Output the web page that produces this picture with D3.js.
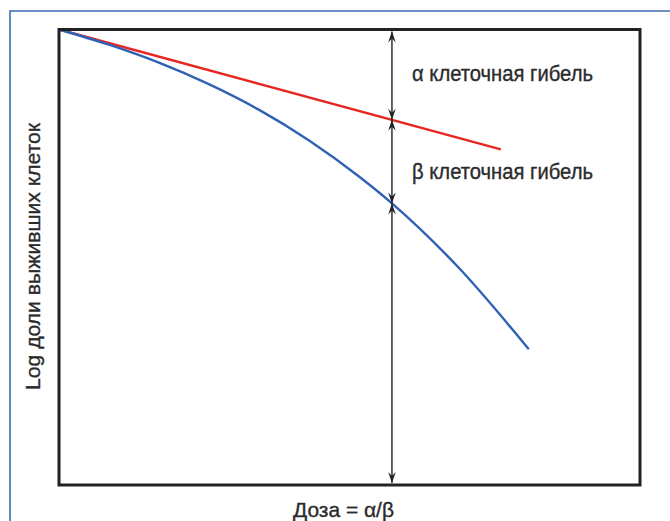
<!DOCTYPE html>
<html>
<head>
<meta charset="utf-8">
<script src="https://cdn.jsdelivr.net/npm/d3@7"></script>
<style>
  html, body { margin: 0; padding: 0; background: #fff; }
</style>
</head>
<body>
<div id="chart"></div>
<script>
// alpha-only (linear) component
const redDose = [0, 1.327]
const redLog = [0, -1.316]

// total (linear-quadratic) survival
const blueDose = [0, 0.15, 0.30, 0.45, 0.60, 0.75, 0.90, 1.0, 1.20, 1.411]
const blueLog = [0, -0.167, -0.364, -0.600, -0.880, -1.216, -1.611, -1.908, -2.613, -3.509]

// arrow at dose = alpha/beta, split at the two curves
const markDose = 1
const markStops = [0, -0.99, -1.91, -5]

const labels = ["α клеточная гибель", "β клеточная гибель"]
const xTitle = "Доза = α/β"
const yTitle = "Log доли выживших клеток"

const width = 670
const height = 521
const frame = { left: 59, right: 640, top: 29.5, bottom: 485 }

const svg = d3.select("#chart")
  .append("svg")
  .attr("width", width)
  .attr("height", height)
  .style("font-family", "'Liberation Sans', Arial, sans-serif")

// outer page border (left + top only visible)
svg.append("path")
  .attr("d", `M10,${height} L10,11 L${width},11`)
  .attr("fill", "none")
  .attr("stroke", "#3e6eb1")
  .attr("stroke-width", 1.6)

const x = d3.scaleLinear().domain([0, 1.745]).range([frame.left, frame.right])
const y = d3.scaleLinear().domain([0, -5]).range([frame.top, frame.bottom])

const line = d3.line()
  .x(d => x(d[0]))
  .y(d => y(d[1]))

svg.append("path")
  .datum(d3.zip(redDose, redLog))
  .attr("d", line)
  .attr("fill", "none")
  .attr("stroke", "#e62621")
  .attr("stroke-width", 2.4)

svg.append("path")
  .datum(d3.zip(blueDose, blueLog))
  .attr("d", line.curve(d3.curveMonotoneX))
  .attr("fill", "none")
  .attr("stroke", "#2f62b5")
  .attr("stroke-width", 2.4)

// vertical marker with arrowheads
const mx = x(markDose)
svg.append("line")
  .attr("x1", mx).attr("x2", mx)
  .attr("y1", y(markStops[0]) + 2).attr("y2", y(markStops[3]) - 2)
  .attr("stroke", "#222")
  .attr("stroke-width", 1.4)

const head = (px, py, dir) => {
  // dir -1 = pointing up, 1 = pointing down
  const l = 11 * dir, n = 7 * dir
  return `M${px},${py} L${px - 3.8},${py - l} L${px},${py - n} L${px + 3.8},${py - l} Z`
}
markStops.forEach((v, i) => {
  const py = y(v) + (i === 0 ? 2 : i === markStops.length - 1 ? -2 : 0)
  if (i > 0) svg.append("path").attr("d", head(mx, py, 1)).attr("fill", "#222")
  if (i < markStops.length - 1) svg.append("path").attr("d", head(mx, py, -1)).attr("fill", "#222")
})

// frame
svg.append("rect")
  .attr("x", frame.left).attr("y", frame.top)
  .attr("width", frame.right - frame.left)
  .attr("height", frame.bottom - frame.top)
  .attr("fill", "none")
  .attr("stroke", "#222")
  .attr("stroke-width", 3)

// condensed look: squeeze the glyphs to the measured widths, thicken a bit
const txt = sel => sel
  .attr("lengthAdjust", "spacingAndGlyphs")
  .attr("fill", "#2a2a2a")
  .attr("stroke", "#2a2a2a")
  .attr("stroke-width", 0.35)

svg.selectAll("text.lbl")
  .data(labels)
  .join("text")
  .attr("class", "lbl")
  .attr("x", 412)
  .attr("y", (d, i) => [81, 179][i])
  .attr("font-size", 22)
  .attr("textLength", 181)
  .call(txt)
  .text(d => d)

svg.append("text")
  .attr("x", 293)
  .attr("y", 517)
  .attr("font-size", 21)
  .attr("textLength", 101)
  .call(txt)
  .text(xTitle)

svg.append("text")
  .attr("transform", `translate(40,390) rotate(-90)`)
  .attr("font-size", 21)
  .attr("textLength", 267)
  .call(txt)
  .text(yTitle)
</script>
</body>
</html>
